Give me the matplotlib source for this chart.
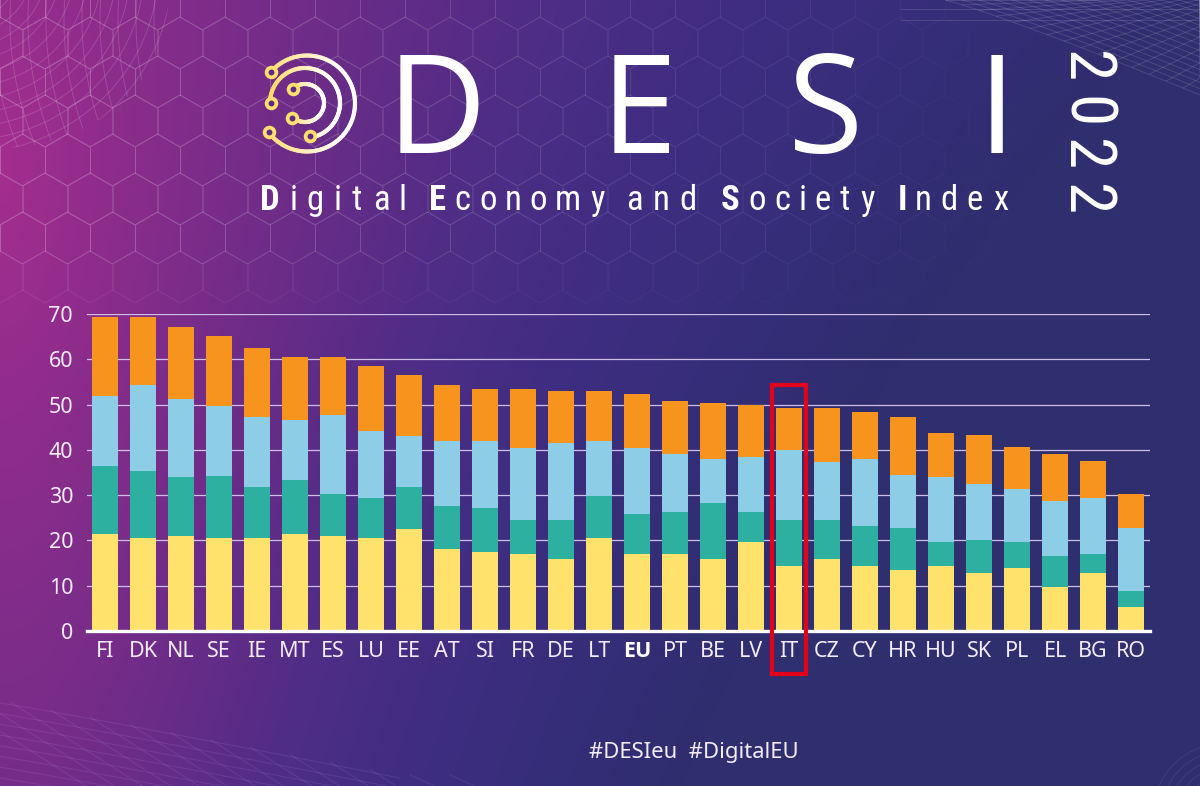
import numpy as np
import matplotlib
matplotlib.use("Agg")
import matplotlib.pyplot as plt
from matplotlib.collections import LineCollection
from matplotlib.colors import LinearSegmentedColormap, to_rgb
from matplotlib.patches import Rectangle, Ellipse
from matplotlib.font_manager import FontProperties
from matplotlib.textpath import TextPath

# ---------- data ----------
countries = ["FI","DK","NL","SE","IE","MT","ES","LU","EE","AT","SI","FR","DE","LT",
             "EU","PT","BE","LV","IT","CZ","CY","HR","HU","SK","PL","EL","BG","RO"]
# Cumulative tops
human_capital = [21.5,20.5,21.0,20.5,20.5,21.5,21.0,20.5,22.6,18.0,17.5,17.0,16.0,20.6,
                 17.0,17.0,16.0,19.6,14.4,16.0,14.4,13.4,14.4,12.9,13.9,9.7,12.9,5.2]
connectivity_top = [36.4,35.3,33.9,34.3,31.9,33.3,30.3,29.3,31.9,27.7,27.2,24.6,24.6,29.8,
                    25.8,26.2,28.2,26.2,24.6,24.6,23.2,22.7,19.6,20.1,19.6,16.5,17.0,8.8]
integration_top = [51.8,54.4,51.2,49.7,47.2,46.6,47.7,44.1,43.1,42.0,42.0,40.5,41.5,42.0,
                   40.5,39.0,38.0,38.5,40.0,37.4,38.0,34.4,33.9,32.4,31.3,28.8,29.3,22.7]
total = [69.3,69.3,67.2,65.2,62.6,60.6,60.6,58.5,56.5,54.4,53.4,53.4,52.9,52.9,
         52.4,50.8,50.3,49.8,49.3,49.3,48.3,47.3,43.7,43.2,40.6,39.0,37.5,30.3]
highlight = "IT"
yticks = [0,10,20,30,40,50,60,70]

YELLOW, GREEN, BLUE, ORANGE = "#FFE26B", "#2DB0A0", "#8ECDE6", "#F7941D"
TXT = "#F3ECF8"
NARROW = ["Roboto Condensed", "Open Sans"]

W, H = 1200, 786
fig = plt.figure(figsize=(12, 7.86), dpi=100)

# ---------- background ----------
bg = fig.add_axes([0, 0, 1, 1], zorder=0)
bg.set_xlim(0, W); bg.set_ylim(H, 0); bg.axis("off")
cmap = LinearSegmentedColormap.from_list("bg", [
    (0.00, "#A32E8F"), (0.12, "#8A2C8B"), (0.27, "#6E2C88"), (0.45, "#4F2D86"),
    (0.62, "#3F2D82"), (0.82, "#352D78"), (1.00, "#2F2E6E")])
xx, yy = np.meshgrid(np.linspace(0, 1, 600), np.linspace(0, 1, 393))
t = np.clip(np.sqrt((xx*(1.0 + 0.7*yy))**2 + ((yy-0.22)*0.30)**2), 0, 1)
bg.imshow(t, extent=(0, W, H, 0), cmap=cmap, vmin=0, vmax=1, aspect="auto", zorder=0)

# hexagon pattern
R = 26.0; dx = 45.0; dy = 39.0
segs, cols = [], []
def hex_alpha(x, y):
    return 0.13*np.clip(1.05-x/1000, 0, 1)*np.clip((320-y)/80, 0, 1)
for r in range(-1, 10):
    cy = 4 + r*dy
    off = 0 if r % 2 else 22.5
    for c in range(-1, 27):
        cx = off + c*dx
        ang = np.deg2rad(np.arange(30, 390, 60))
        pts = np.c_[cx + R*np.cos(ang), cy + R*np.sin(ang)]
        for a, b in zip(pts, np.roll(pts, -1, axis=0)):
            m = (a+b)/2
            al = float(hex_alpha(m[0], m[1]))
            if al > 0.005:
                segs.append([a, b]); cols.append((1, 1, 1, al))
bg.add_collection(LineCollection(segs, colors=cols, linewidths=0.8, zorder=1))

def fam(curves, alpha=0.16, lw=0.7, color=(1, 1, 1)):
    lc = LineCollection(curves, colors=[(*color, alpha)], linewidths=lw, zorder=1)
    bg.add_collection(lc)
    return lc

# mesh top-left: a curved lattice clipped to a large ellipse
s = np.linspace(-0.2, np.pi/2+0.2, 80)
curves = []
for rad in np.arange(25, 260, 14):
    curves.append(np.c_[-35 + rad*np.cos(s), -30 + rad*0.95*np.sin(s)])
for off_ in np.arange(-80, 230, 18):
    v_ = np.linspace(-10, 170, 40)
    curves.append(np.c_[off_ + 0.0016*(v_-20)**2 + 0*v_, v_])
mesh = fam(curves, 0.15)
clip = Ellipse((0, 0), 2*168, 2*148, transform=bg.transData)
mesh.set_clip_path(clip)

# mesh top-right: crossing lines above a slanted edge
u = np.linspace(0, 1, 40)
curves = []
for k in np.linspace(0, 1, 16):
    x0 = 945 + 250*k
    curves.append(np.c_[x0 + (1200-x0)*u, 95*(1-k)*u**1.1])
for k in np.linspace(0, 1, 16):
    xb = 945 + 255*k
    yb = 95*(k**1.1)
    xe = np.minimum(xb + 150*u, 1200)
    curves.append(np.c_[xe, yb*(1-u)])
for y0 in (9, 20):
    curves.append(np.c_[900 + 300*u, y0 + 0*u])
fam(curves, 0.13)

# mesh bottom-left
v = np.linspace(0, 400, 80)
curves = []
for k in np.linspace(0, 1, 8):
    curves.append(np.c_[v, 703 + 75*(v/400)**1.05 + k*75])
for k in range(14):
    x0 = -70 + 40*k
    xs = np.linspace(x0, x0+190, 30)
    curves.append(np.c_[xs, 703 + 75*np.clip(xs, 0, 400)/400 + 85*(xs-x0)/190 - 3])
fam(curves, 0.12, color=(0.78, 0.72, 1))
bg.set_ylim(H, 0); bg.set_xlim(0, W)

# faint arcs bottom-right
th = np.linspace(np.pi, 1.5*np.pi, 40)
fam([np.c_[1225 + r*np.cos(th), 815 + r*np.sin(th)] for r in np.arange(40, 75, 8)], 0.08)

# logo
def grad_arc(cx, cy, r, a0, a1, lw=3.0):
    a = np.deg2rad(np.linspace(a0, a1, 90))
    p = np.c_[cx + r*np.cos(a), cy - r*np.sin(a)]
    sg = np.stack([p[:-1], p[1:]], axis=1)
    y_, w_ = np.array(to_rgb("#FFD966")), np.array([1., 1., 1.])
    f = np.clip((sg[:, 0, 0]-(cx-r))/(1.75*r), 0, 1)[:, None]
    bg.add_collection(LineCollection(sg, colors=y_*(1-f)+w_*f, linewidths=lw, capstyle="round", zorder=3))
grad_arc(307, 103.5, 48, 139, -143)
grad_arc(305, 103, 35, 178, -80)
grad_arc(305, 103, 19, 130, -130)
nodes_x = [271, 271, 269, 293, 292, 310]
nodes_y = [72, 103, 132, 89, 118, 136]
bg.scatter(nodes_x, nodes_y, s=95, color="#FFDE70", linewidth=0, zorder=4)
bg.scatter(nodes_x, nodes_y, s=18, color="#5A2C86", linewidth=0, zorder=5)

# title letters, placed one by one
big = dict(color="white", family=["Open Sans"], fontweight="normal", fontsize=99,
           va="baseline", ha="center", zorder=5)
for ch, xc in zip("DESI", [437, 639, 826, 997]):
    bg.text(xc, 153, ch, **big)

def spaced(word, x0, x1, baseline, size, bold_first=True):
    fp = FontProperties(family=NARROW, size=size, weight=400)
    fb = FontProperties(family=NARROW, size=size, weight="bold")
    ws = []
    for i, ch in enumerate(word):
        tp = TextPath((0, 0), ch, prop=fb if (i == 0 and bold_first) else fp)
        ws.append(tp.get_extents().width*100/72)
    gap = (x1-x0-sum(ws))/max(1, len(word)-1)
    x = x0
    for i, ch in enumerate(word):
        b = i == 0 and bold_first
        bg.text(x + ws[i]/2, baseline, ch, color="white", family=NARROW, fontsize=size,
                fontweight="bold" if b else 400, ha="center", va="baseline", zorder=5)
        x += ws[i] + gap
for word, a, b in [("Digital", 262, 404), ("Economy", 430, 604), ("and", 628, 695),
                   ("Society", 722, 874), ("Index", 900, 1007)]:
    spaced(word, a, b, 210, 25, bold_first=word != "and")

for ch, yc in zip("2022", [67, 112, 155, 200]):
    bg.text(1085, yc, ch, color="white", family=NARROW, fontsize=47, fontweight=400, rotation=-90,
            ha="center", va="center", zorder=5)

bg.text(589, 758, "#DESIeu  #DigitalEU", color=TXT, family=["Noto Sans"], fontsize=15.9,
        ha="left", va="baseline", zorder=5)

# ---------- chart ----------
L, Rr, B, T = 87, 1150, 631, 314
ax = fig.add_axes([L/W, 1-B/H, (Rr-L)/W, (B-T)/H], zorder=2)
ax.patch.set_alpha(0)
x = np.arange(len(countries))
ax.set_xlim((L-105)/38, (Rr-105)/38)
ax.set_ylim(0, 70)
cum = [human_capital, connectivity_top, integration_top, total]
bottom = np.zeros(len(x))
for top, col in zip(cum, [YELLOW, GREEN, BLUE, ORANGE]):
    top = np.array(top)
    ax.bar(x, top-bottom, bottom=bottom, width=0.66, color=col, linewidth=0, zorder=3)
    bottom = top

ax.set_yticks(yticks)
ax.set_yticklabels([str(v) for v in yticks])
ax.set_xticks(x)
ax.set_xticklabels(countries)
ax.grid(axis="y", color="#CDBFE6", linewidth=0.9, zorder=1)
ax.set_axisbelow(True)
for sp in ("top", "left", "right"):
    ax.spines[sp].set_visible(False)
ax.spines["bottom"].set_color("white")
ax.spines["bottom"].set_linewidth(2.4)
ax.spines["bottom"].set_zorder(4)
ax.tick_params(axis="both", length=0, labelcolor=TXT, labelsize=15.5)
ax.tick_params(axis="y", pad=10)
ax.tick_params(axis="x", pad=7)
for lab in ax.get_xticklabels() + ax.get_yticklabels():
    lab.set_family(["Noto Sans"])
for lab, c in zip(ax.get_xticklabels(), countries):
    if c == "EU":
        lab.set_family(["Open Sans"])
        lab.set_fontweight("bold")
        lab.set_color("white")

i = countries.index(highlight)
ax.add_patch(Rectangle((i-0.46, -9.6), 0.92, 63.9, fill=False, edgecolor="#E2001A",
                       linewidth=3.0, clip_on=False, zorder=6))

fig.savefig("out.png", dpi=100)
